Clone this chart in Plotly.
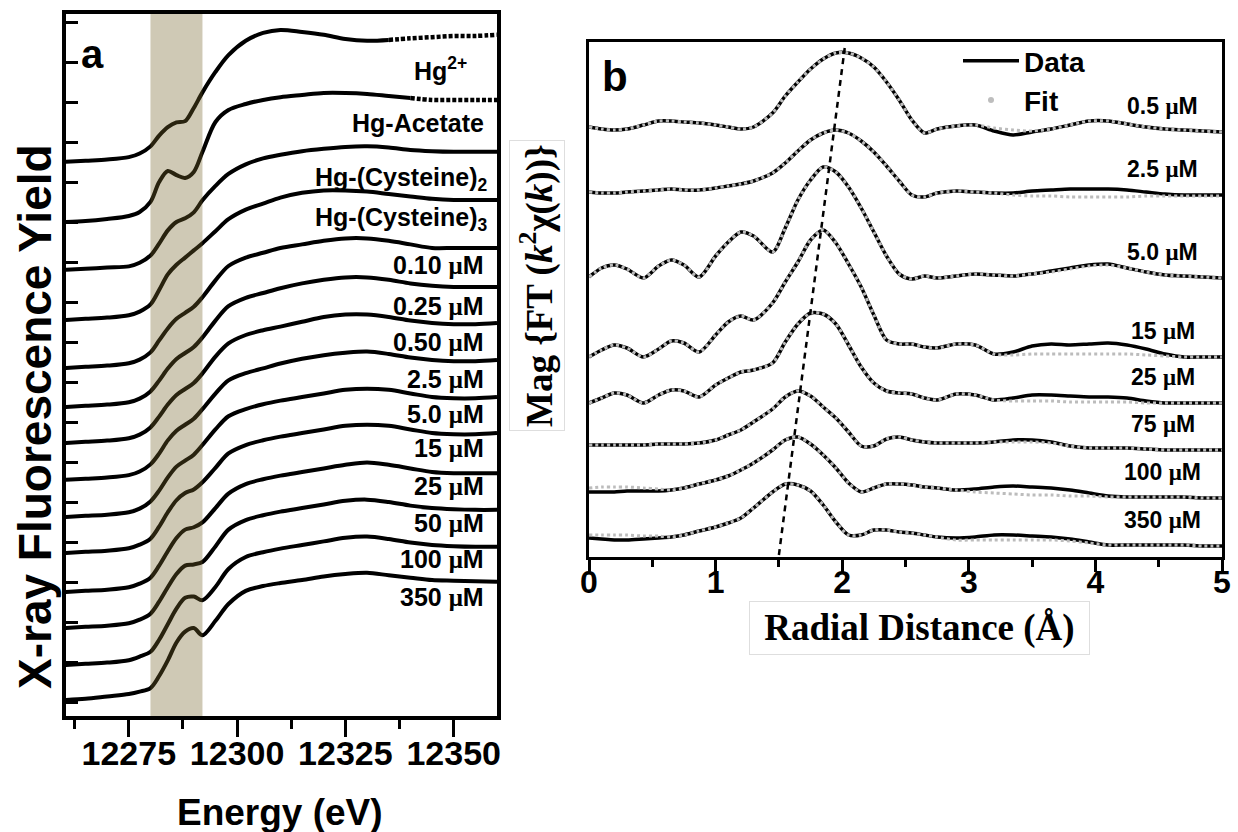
import plotly.graph_objects as go

# ---------------- Panel a: XANES ----------------
ENERGY = [12260, 12265, 12270, 12275, 12277.5, 12280, 12282, 12284, 12286, 12288, 12290,
          12292, 12295, 12298, 12302, 12306, 12310, 12315, 12320, 12325, 12330, 12335,
          12340, 12345, 12350, 12355, 12360]

XANES_LABELS = ["Hg<sup>2+</sup>", "Hg-Acetate", "Hg-(Cysteine)<sub>2</sub>", "Hg-(Cysteine)<sub>3</sub>",
                "0.10 μM", "0.25 μM", "0.50 μM", "2.5 μM", "5.0 μM", "15 μM", "25 μM",
                "50 μM", "100 μM", "350 μM"]

XANES_OFFSETS = [4.617, 4.117, 3.717, 3.3, 2.9, 2.575, 2.275, 1.967, 1.658, 1.358, 1.033, 0.733, 0.425, 0.133]

XANES_HG2 = [0, 0.01, 0.02, 0.04, 0.07, 0.13, 0.22, 0.29, 0.33, 0.34, 0.45, 0.58, 0.75, 0.89, 1.01, 1.075,
             1.10, 1.083, 1.06, 1.025, 1.01, 1.017, 1.03, 1.04, 1.05, 1.05, 1.06]
XANES_ACET = [0, 0.008, 0.025, 0.05, 0.083, 0.167, 0.333, 0.425, 0.39, 0.367, 0.417, 0.583, 0.833, 0.933,
              0.983, 1.017, 1.04, 1.058, 1.075, 1.075, 1.067, 1.05, 1.033, 1.017, 1.017, 1.017, 1.017]
XANES_CYS2 = [0, 0.01, 0.02, 0.03, 0.06, 0.12, 0.22, 0.33, 0.40, 0.43, 0.48, 0.58, 0.70, 0.80, 0.88, 0.93,
              0.96, 0.99, 1.01, 1.025, 1.03, 1.02, 1.0, 0.99, 0.985, 0.985, 0.985]
XANES_CYS3 = [0, 0.01, 0.02, 0.04, 0.07, 0.13, 0.25, 0.38, 0.46, 0.52, 0.58, 0.64, 0.74, 0.84, 0.92, 0.97,
              1.02, 1.06, 1.08, 1.08, 1.07, 1.05, 1.03, 1.01, 1.0, 1.0, 1.0]
XANES_010 = [0, 0.01, 0.02, 0.04, 0.07, 0.13, 0.23, 0.33, 0.41, 0.46, 0.51, 0.59, 0.73, 0.85, 0.92, 0.96,
             1.0, 1.03, 1.06, 1.08, 1.08, 1.06, 1.03, 1.0, 1.0, 1.0, 1.0]
XANES_025 = [0, 0.01, 0.02, 0.04, 0.07, 0.13, 0.22, 0.32, 0.40, 0.45, 0.50, 0.58, 0.72, 0.84, 0.91, 0.95,
             0.99, 1.03, 1.06, 1.08, 1.08, 1.06, 1.03, 1.01, 1.0, 1.0, 1.0]
XANES_050 = [0, 0.01, 0.02, 0.04, 0.07, 0.13, 0.22, 0.32, 0.40, 0.45, 0.50, 0.58, 0.72, 0.83, 0.90, 0.94,
             0.97, 1.01, 1.05, 1.07, 1.07, 1.05, 1.02, 1.0, 0.99, 0.99, 1.0]
XANES_2_5 = [0, 0.01, 0.02, 0.04, 0.07, 0.13, 0.22, 0.33, 0.41, 0.46, 0.51, 0.59, 0.72, 0.83, 0.89, 0.93,
             0.97, 1.01, 1.04, 1.06, 1.07, 1.05, 1.02, 1.0, 0.99, 0.99, 1.0]
XANES_5_0 = [0, 0.01, 0.02, 0.04, 0.07, 0.13, 0.22, 0.33, 0.42, 0.47, 0.52, 0.60, 0.73, 0.84, 0.90, 0.94,
             0.97, 1.0, 1.03, 1.06, 1.07, 1.06, 1.03, 1.0, 0.99, 0.99, 1.0]
XANES_15 = [0, 0.01, 0.02, 0.04, 0.07, 0.12, 0.22, 0.34, 0.44, 0.50, 0.53, 0.59, 0.71, 0.83, 0.90, 0.94,
            0.97, 1.0, 1.03, 1.06, 1.07, 1.06, 1.03, 1.0, 0.99, 0.99, 1.0]
XANES_25 = [0, 0.01, 0.02, 0.04, 0.07, 0.12, 0.22, 0.34, 0.45, 0.52, 0.54, 0.58, 0.70, 0.82, 0.90, 0.94,
            0.97, 1.0, 1.03, 1.06, 1.08, 1.06, 1.03, 1.0, 0.99, 0.99, 0.99]
XANES_50 = [0, 0.01, 0.02, 0.04, 0.07, 0.12, 0.22, 0.34, 0.45, 0.52, 0.53, 0.55, 0.68, 0.82, 0.90, 0.94,
            0.97, 1.0, 1.03, 1.06, 1.07, 1.05, 1.02, 1.0, 0.99, 0.985, 0.985]
XANES_100 = [0, 0.01, 0.02, 0.04, 0.07, 0.11, 0.21, 0.34, 0.47, 0.56, 0.57, 0.54, 0.65, 0.80, 0.90, 0.94,
             0.97, 1.0, 1.03, 1.06, 1.07, 1.05, 1.02, 1.0, 0.99, 0.985, 0.985]
XANES_350 = [0, 0.01, 0.03, 0.05, 0.07, 0.10, 0.20, 0.33, 0.48, 0.57, 0.60, 0.54, 0.66, 0.80, 0.91, 0.95,
             0.975, 1.0, 1.03, 1.05, 1.06, 1.04, 1.02, 1.0, 0.995, 0.99, 0.985]

XANES = [XANES_HG2, XANES_ACET, XANES_CYS2, XANES_CYS3, XANES_010, XANES_025, XANES_050, XANES_2_5,
         XANES_5_0, XANES_15, XANES_25, XANES_50, XANES_100, XANES_350]

# energy above which a spectrum is drawn as sparse points (dotted) in the original
XANES_DOTTED_FROM = [12335, 12340, None, None, None, None, None, None, None, None, None, None, None, None]

E_TICKS = [12275, 12300, 12325, 12350]
E_TICK_TEXT = ["12275", "12300", "12325", "12350"]
E_MINOR = [12262.5, 12287.5, 12312.5, 12337.5]
BAND = [12280, 12292]

# ---------------- Panel b: FT magnitude ----------------
R = [0, 0.1, 0.2, 0.3, 0.43, 0.55, 0.65, 0.75, 0.87, 1.0, 1.1, 1.2, 1.3, 1.45, 1.55, 1.65, 1.75, 1.85,
     1.95, 2.05, 2.15, 2.25, 2.35, 2.45, 2.55, 2.65, 2.75, 2.9, 3.05, 3.2, 3.35, 3.5, 3.65, 3.8, 3.95,
     4.1, 4.25, 4.4, 4.55, 4.7, 4.85, 5.0]

FT_LABELS = ["0.5 μM", "2.5 μM", "5.0 μM", "15 μM", "25 μM", "75 μM", "100 μM", "350 μM"]
FT_OFFSETS = [425, 362, 279, 200, 154, 107, 59, 11]

FT_DATA_05 = [5, 3, 2, 3, 7, 11, 11, 10, 9, 7, 5, 3, 5, 19, 36, 50, 63, 73, 79, 79, 74, 65, 50, 32, 12, -1,
              3, 6, 7, 1, -3, 0, 3, 7, 11, 11, 8, 5, 3, 2, 1, 0]
FT_FIT_05 = [5, 3, 2, 3, 7, 11, 11, 10, 9, 7, 5, 3, 5, 19, 36, 50, 63, 73, 79, 79, 74, 65, 50, 32, 12, -1,
             3, 6, 7, 4, 2, 1, 3, 7, 11, 11, 8, 5, 3, 2, 1, 0]
FT_DATA_25 = [3, 2, 2, 3, 4, 5, 6, 5, 5, 7, 9, 11, 14, 22, 32, 44, 55, 62, 65, 62, 54, 43, 29, 14, 0, -2,
              2, 4, 3, 2, 2, 4, 5, 6, 6, 6, 5, 3, 1, 0, 0, 0]
FT_FIT_25 = [3, 2, 2, 3, 4, 5, 6, 5, 5, 7, 9, 11, 14, 22, 32, 44, 55, 62, 65, 62, 54, 43, 29, 14, 0, -2,
             2, 4, 3, 2, 0, -1, -1, -2, -2, -2, -2, -1, -1, -1, -1, -1]
FT_DATA_50 = [1, 10, 13, 9, 0, 12, 18, 13, 1, 22, 36, 46, 42, 26, 50, 78, 98, 111, 106, 91, 70, 46, 22, 4,
              -1, 2, 0, 2, 4, 3, 2, 4, 7, 10, 13, 14, 10, 6, 3, 2, 1, 0]
FT_FIT_50 = [1, 10, 13, 9, 0, 12, 18, 13, 1, 22, 36, 46, 42, 26, 50, 78, 98, 111, 106, 91, 70, 46, 22, 4,
             -1, 2, 0, 2, 4, 3, 2, 4, 6, 9, 12, 13, 10, 6, 3, 2, 1, 0]
FT_DATA_15 = [0, 7, 12, 9, 0, 8, 16, 14, 5, 22, 35, 41, 37, 54, 75, 95, 117, 127, 114, 93, 70, 42, 17, 13,
              13, 10, 9, 13, 12, 3, 5, 11, 13, 12, 13, 14, 12, 8, 3, 0, 0, 0]
FT_FIT_15 = [0, 7, 12, 9, 0, 8, 16, 14, 5, 22, 35, 41, 37, 54, 75, 95, 117, 127, 114, 93, 70, 42, 17, 13,
             13, 10, 9, 13, 12, 3, 2, 3, 3, 3, 3, 3, 3, 2, 1, 0, 0, 0]
FT_DATA_250 = [0, 5, 10, 8, 0, 8, 13, 12, 6, 18, 25, 31, 33, 40, 61, 79, 90, 89, 79, 58, 36, 20, 12, 10,
               9, 5, 3, 9, 8, 3, 5, 8, 8, 7, 6, 6, 5, 2, 0, 0, 0, 0]
FT_FIT_250 = [0, 5, 10, 8, 0, 8, 13, 12, 6, 18, 25, 31, 33, 40, 61, 79, 90, 89, 79, 58, 36, 20, 12, 10,
              9, 5, 3, 9, 8, 3, 2, 2, 2, 1, 1, 1, 1, 0, 0, 0, 0, 0]
FT_DATA_75 = [5, 5, 5, 5, 5, 6, 6, 6, 7, 10, 15, 20, 28, 41, 53, 59, 54, 43, 32, 18, 4, 4, 11, 13, 10, 8,
              7, 7, 7, 8, 10, 10, 8, 4, 2, 2, 2, 1, 0, 0, 0, 0]
FT_FIT_75 = [5, 5, 5, 5, 5, 6, 6, 6, 7, 10, 15, 20, 28, 41, 53, 59, 54, 43, 32, 18, 4, 4, 11, 13, 10, 8,
             7, 7, 7, 8, 8, 8, 7, 4, 2, 2, 2, 1, 0, 0, 0, 0]
FT_DATA_100 = [6, 6, 6, 7, 7, 7, 8, 10, 14, 18, 22, 28, 35, 48, 58, 61, 54, 43, 30, 15, 6, 10, 14, 14, 13,
               11, 10, 8, 9, 11, 12, 11, 10, 8, 5, 2, 1, 1, 1, 1, 0, 0]
FT_FIT_100 = [10, 11, 11, 11, 10, 9, 8, 10, 14, 18, 22, 28, 35, 48, 58, 61, 54, 43, 30, 15, 6, 10, 14, 14,
              13, 11, 10, 8, 6, 5, 4, 3, 3, 2, 2, 1, 1, 1, 1, 1, 0, 0]
FT_DATA_350 = [8, 7, 6, 6, 7, 8, 9, 11, 15, 19, 23, 28, 38, 54, 62, 61, 55, 41, 24, 11, 11, 16, 16, 14, 13,
               11, 9, 8, 9, 11, 11, 10, 9, 7, 4, 1, 1, 1, 1, 1, 0, 0]
FT_FIT_350 = [11, 11, 11, 11, 10, 10, 9, 11, 15, 19, 23, 28, 38, 54, 62, 61, 55, 41, 24, 11, 11, 16, 16, 14,
              13, 11, 9, 6, 6, 6, 6, 6, 6, 5, 3, 1, 1, 1, 1, 1, 0, 0]

FT_DATA = [FT_DATA_05, FT_DATA_25, FT_DATA_50, FT_DATA_15, FT_DATA_250, FT_DATA_75, FT_DATA_100, FT_DATA_350]
FT_FIT = [FT_FIT_05, FT_FIT_25, FT_FIT_50, FT_FIT_15, FT_FIT_250, FT_FIT_75, FT_FIT_100, FT_FIT_350]

PEAK_LINE_R = [1.5, 2.02]
PEAK_LINE_Y = [2, 509]
R_TICKS = [0, 1, 2, 3, 4, 5]

# ---------------- Figure ----------------
W, H = 1238, 832
SANS = "Liberation Sans, Arial, sans-serif"
SERIF = "Liberation Serif, Times New Roman, serif"
MU = "<span style='font-family:Liberation Serif'>μ</span>"

# label nudges (layout only), in axis units
LABEL_NUDGE_A = [-0.125, -0.033, -0.067, 0, 0.017, 0, 0, 0, 0.017, 0.033, 0.05, 0.05, 0.058, 0.033]
LABEL_XNUDGE_A = [-4, 0, 0.8, 0.8, 0, 0, 0, 0, 0, 0, 0, 0, 0, 0]

fig = go.Figure()

line_a = dict(color="black", width=4, shape="spline", smoothing=0.9)
for lab, off, vals, dot_from, nudge, xn in zip(XANES_LABELS, XANES_OFFSETS, XANES, XANES_DOTTED_FROM,
                                               LABEL_NUDGE_A, LABEL_XNUDGE_A):
    ys = [v + off for v in vals]
    if dot_from is None:
        fig.add_trace(go.Scatter(x=ENERGY, y=ys, mode="lines", line=line_a,
                                 showlegend=False, hoverinfo="skip", xaxis="x", yaxis="y"))
    else:
        k = ENERGY.index(dot_from)
        fig.add_trace(go.Scatter(x=ENERGY[:k + 1], y=ys[:k + 1], mode="lines", line=line_a,
                                 showlegend=False, hoverinfo="skip", xaxis="x", yaxis="y"))
        fig.add_trace(go.Scatter(x=ENERGY[k:], y=ys[k:], mode="lines",
                                 line=dict(color="black", width=4.5, shape="spline", dash="4px,2px"),
                                 showlegend=False, hoverinfo="skip", xaxis="x", yaxis="y"))
    fig.add_annotation(
        x=12357.5 + xn, y=off + vals[-1] - 0.16 + nudge, xref="x", yref="y",
        xanchor="right", yanchor="middle",
        text="<b>" + lab.replace("μ", MU) + "</b>", showarrow=False,
        font=dict(family=SANS, size=25, color="black"))

for lab, off, d, f in zip(FT_LABELS, FT_OFFSETS, FT_DATA, FT_FIT):
    fig.add_trace(go.Scatter(
        x=R, y=[v + off for v in d], mode="lines",
        line=dict(color="black", width=3.5, shape="spline", smoothing=0.8),
        showlegend=False, hoverinfo="skip", xaxis="x2", yaxis="y2"))
    fig.add_trace(go.Scatter(
        x=R, y=[v + off for v in f], mode="lines",
        line=dict(color="#bcbcbc", width=3, shape="spline", smoothing=0.8, dash="dot"),
        showlegend=False, hoverinfo="skip", xaxis="x2", yaxis="y2"))
    fig.add_annotation(
        x=4.53, y=off + 26, xref="x2", yref="y2", xanchor="center", yanchor="middle",
        text="<b>" + lab.replace("μ", MU) + "</b>", showarrow=False,
        font=dict(family=SANS, size=23, color="black"))

fig.add_trace(go.Scatter(
    x=PEAK_LINE_R, y=PEAK_LINE_Y, mode="lines",
    line=dict(color="black", width=2.5, dash="6px,5px"),
    showlegend=False, hoverinfo="skip", xaxis="x2", yaxis="y2"))

# legend entries
fig.add_trace(go.Scatter(x=[None], y=[None], mode="lines", name="Data",
                         line=dict(color="black", width=3.5), xaxis="x2", yaxis="y2"))
fig.add_trace(go.Scatter(x=[None], y=[None], mode="markers", name="Fit",
                         marker=dict(color="#bdbdbd", size=6), xaxis="x2", yaxis="y2"))

# shaded band over the pre-edge feature
fig.add_shape(type="rect", xref="x", yref="y domain", x0=BAND[0], x1=BAND[1], y0=0, y1=1,
              fillcolor="rgba(118,101,44,0.35)", line=dict(width=0), layer="above")


def px_x(p):
    return p / W


def px_y(p):
    return 1 - p / H


fig.update_layout(
    template="none",
    width=W, height=H, margin=dict(l=0, r=0, t=0, b=0, pad=0),
    paper_bgcolor="white", plot_bgcolor="white",
    showlegend=True,
    legend=dict(x=px_x(958), y=px_y(36), xanchor="left", yanchor="top",
                bgcolor="rgba(0,0,0,0)", itemwidth=56, borderwidth=0,
                font=dict(family=SANS, size=28, color="black", weight="bold")),
    xaxis=dict(domain=[px_x(66), px_x(497)], anchor="y", range=[12260.5, 12360], automargin=False,
               tickmode="array", tickvals=E_TICKS, ticktext=E_TICK_TEXT, tickangle=0,
               ticks="outside", ticklen=17, tickwidth=3, tickcolor="black", ticklabelstandoff=-13,
               minor=dict(tickmode="array", tickvals=E_MINOR, ticks="outside", ticklen=9,
                          tickwidth=3, tickcolor="black", showgrid=False),
               showline=True, mirror=True, linewidth=4, linecolor="black",
               showgrid=False, zeroline=False,
               tickfont=dict(family=SANS, size=34, color="black", weight="bold")),
    yaxis=dict(domain=[px_y(716), px_y(14)], anchor="x", range=[0, 5.85], automargin=False,
               tick0=0.1167, dtick=0.3333, ticks="inside", ticklen=12, tickwidth=3, tickcolor="black",
               showticklabels=False, showline=True, mirror=True, linewidth=4, linecolor="black",
               showgrid=False, zeroline=False),
    xaxis2=dict(domain=[px_x(589), px_x(1222)], anchor="y2", range=[0, 5], automargin=False,
                tickmode="array", tickvals=R_TICKS, ticktext=[str(t) for t in R_TICKS], tickangle=0,
                ticks="outside", ticklen=12, tickwidth=3, tickcolor="black", ticklabelstandoff=-17,
                minor=dict(dtick=0.5, ticks="outside", ticklen=7, tickwidth=3, tickcolor="black",
                           showgrid=False),
                showline=True, mirror=True, linewidth=3, linecolor="black",
                showgrid=False, zeroline=False,
                tickfont=dict(family="Liberation Sans Narrow, " + SANS, size=32, color="black",
                              weight="bold")),
    yaxis2=dict(domain=[px_y(557), px_y(42)], anchor="x2", range=[0, 515], automargin=False,
                showticklabels=False, ticks="", showline=True, mirror=True, linewidth=3,
                linecolor="black", showgrid=False, zeroline=False),
)

# panel letters and axis titles
common = dict(xref="paper", yref="paper", xanchor="center", yanchor="middle", showarrow=False)
fig.add_annotation(x=px_x(92), y=px_y(54), text="<b>a</b>",
                   font=dict(family=SANS, size=40, color="black"), **common)
fig.add_annotation(x=px_x(615), y=px_y(77), text="<b>b</b>",
                   font=dict(family=SANS, size=42, color="black"), **common)
fig.add_annotation(x=px_x(35), y=px_y(417), textangle=-90,
                   text="<b>X-ray Fluorescence Yield</b>",
                   font=dict(family=SANS, size=46, color="black"), **common)
fig.add_annotation(x=px_x(280), y=px_y(812),
                   text="<b>Energy (eV)</b>",
                   font=dict(family=SANS, size=37, color="black"), **common)
fig.add_annotation(x=px_x(537), y=px_y(286), textangle=-90,
                   text="<b>Mag {FT (<i>k</i><sup>2</sup>χ(<i>k</i>))}</b>",
                   bordercolor="#dedede", borderwidth=1, borderpad=3,
                   font=dict(family=SERIF, size=37, color="black"), **common)
fig.add_annotation(x=px_x(920), y=px_y(628),
                   text="<b>&nbsp;Radial Distance (Å)&nbsp;</b>",
                   bordercolor="#dedede", borderwidth=1, borderpad=5,
                   font=dict(family=SERIF, size=37, color="black"), **common)

fig.write_html("out.html")
